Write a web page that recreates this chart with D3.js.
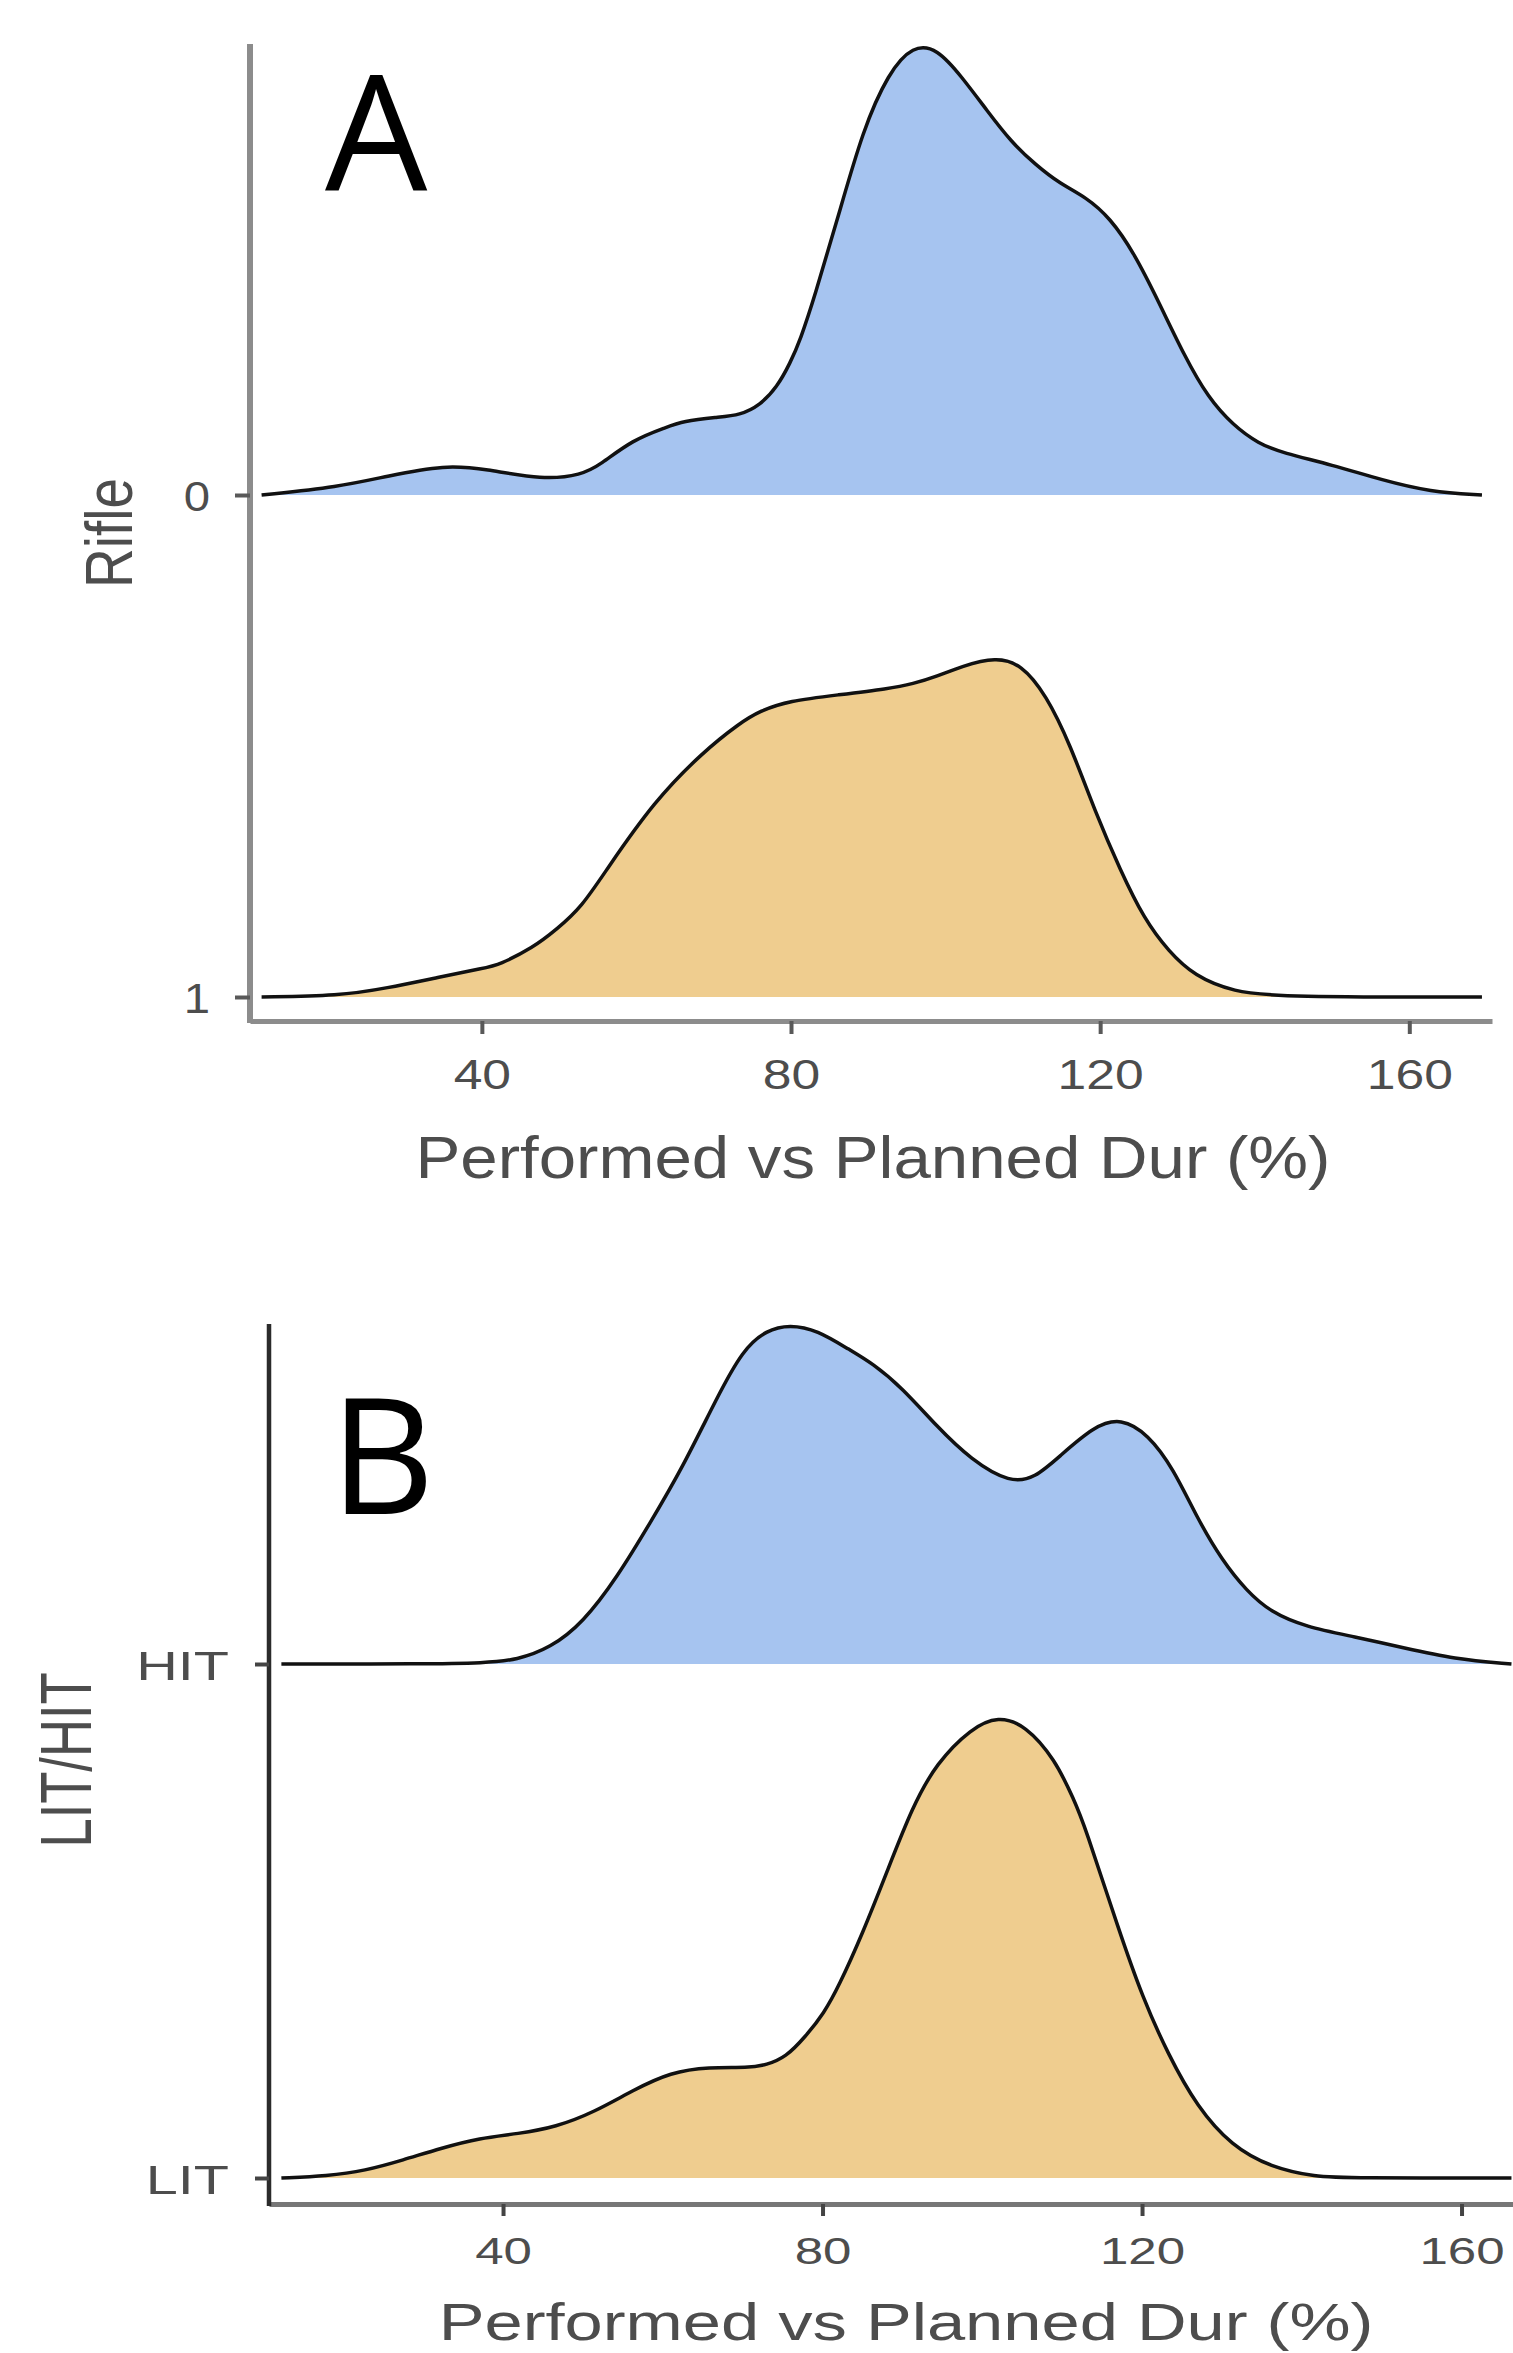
<!DOCTYPE html>
<html>
<head>
<meta charset="utf-8">
<script src="https://cdn.jsdelivr.net/npm/d3@7"></script>
<style>
	body { margin: 0; background: #fff; }
	svg { display: block; }
</style>
</head>
<body>
<svg></svg>
<script>
// panel A : Rifle (0 / 1)
var rifleCats = ['0', '1']
var rifle0X = [11.5, 21.5, 27.8, 35.3, 40.4, 47.9, 52.9, 55.3, 59.5, 63.9, 66.0, 70.4, 73.4, 76.0, 78.2, 79.9, 81.2, 83.0, 86.2, 89.3, 92.6, 95.8, 98.9, 102.1, 105.4, 108.5, 111.7, 114.8, 118.1, 121.3, 124.4, 127.6, 130.9, 134.0, 137.2, 140.5, 143.6, 150.0, 156.4, 162.7, 169.4]
var rifle0D = [0, 0.016, 0.038, 0.060, 0.052, 0.030, 0.040, 0.060, 0.110, 0.135, 0.147, 0.155, 0.159, 0.179, 0.215, 0.263, 0.309, 0.392, 0.560, 0.727, 0.841, 0.896, 0.890, 0.833, 0.765, 0.703, 0.657, 0.620, 0.594, 0.552, 0.482, 0.384, 0.277, 0.193, 0.139, 0.102, 0.084, 0.060, 0.030, 0.006, 0]
var rifle1X = [11.5, 21.5, 27.8, 34.0, 40.4, 42.2, 46.6, 49.7, 52.9, 56.1, 62.3, 68.6, 73.4, 76.0, 79.7, 86.2, 92.6, 95.8, 98.9, 102.1, 106.5, 109.8, 113.0, 116.1, 119.4, 122.6, 125.7, 128.9, 132.2, 137.2, 143.6, 169.4]
var rifle1D = [0, 0.002, 0.018, 0.038, 0.058, 0.064, 0.098, 0.135, 0.179, 0.253, 0.390, 0.488, 0.546, 0.570, 0.590, 0.602, 0.614, 0.624, 0.639, 0.659, 0.677, 0.663, 0.602, 0.504, 0.367, 0.253, 0.155, 0.090, 0.042, 0.010, 0, 0]

// panel B : LIT / HIT
var intensityCats = ['HIT', 'LIT']
var hitX = [12.25, 30, 37.75, 41.75, 45.9, 50.0, 54.3, 58.4, 62.5, 66.8, 70.0, 73.0, 75.9, 79.3, 83.4, 86.25, 90, 94.25, 98.6, 103.5, 106.6, 109.6, 114, 117.4, 120.75, 123.9, 126.9, 130, 133.1, 136.1, 140.5, 146.6, 152.9, 159, 166.25]
var hitD = [0, 0, 0.002, 0.008, 0.031, 0.080, 0.169, 0.274, 0.383, 0.519, 0.611, 0.650, 0.660, 0.650, 0.611, 0.585, 0.537, 0.463, 0.397, 0.352, 0.362, 0.403, 0.463, 0.479, 0.447, 0.381, 0.284, 0.202, 0.142, 0.101, 0.072, 0.053, 0.031, 0.010, 0]
var litX = [12.25, 18.0, 22.7, 27.5, 32.2, 37.1, 41.9, 46.6, 51.4, 56.3, 61.0, 65.8, 70.7, 73.0, 75.4, 77.8, 80.2, 82, 85, 88.1, 91.25, 94.25, 98.6, 102, 105.4, 109.1, 111.5, 112.75, 117.1, 120.1, 123.25, 126.9, 131.25, 136.1, 141.75, 146, 166.25]
var litD = [0, 0.004, 0.014, 0.035, 0.058, 0.078, 0.086, 0.099, 0.128, 0.171, 0.206, 0.216, 0.214, 0.220, 0.235, 0.274, 0.321, 0.372, 0.475, 0.597, 0.722, 0.807, 0.875, 0.899, 0.881, 0.815, 0.735, 0.689, 0.482, 0.350, 0.241, 0.138, 0.062, 0.021, 0.002, 0, 0]

var xTicks = [40, 80, 120, 160]
var xTitle = 'Performed vs Planned Dur (%)'

var blue = '#a6c4f0'
var orange = '#efcd8f'
var axisFont = '"Liberation Sans", Arial, sans-serif'

var width = 1513, height = 2353
var svg = d3.select('svg').attr('width', width).attr('height', height)

// stretch a text horizontally like the (resized) original picture
function stretch(sel, sx) {
	sel.each(function() {
		var len = this.getComputedTextLength()
		d3.select(this).attr('textLength', len * sx).attr('lengthAdjust', 'spacingAndGlyphs')
	})
}

function zip(xs, ds) {
	return xs.map(function(x, i) {return {x: x, d: ds[i]}})
}

// b-spline keeps the density smooth and never dips under the baseline
var curve = d3.curveBasis

function drawPanel(p) {
	var g = svg.append('g')
	var x = d3.scaleLinear().domain(p.xDomain).range(p.xRange)
	var y = d3.scalePoint().domain(p.cats).range(p.yRange)
	var h = d3.scaleLinear().domain([0, 1]).range([0, p.yRange[1] - p.yRange[0]])

	// ridges
	p.series.forEach(function(s) {
		var base = y(s.cat)
		var pts = zip(s.x, s.d)
		var area = d3.area().curve(curve)
			.x(function(d) {return x(d.x)})
			.y0(base)
			.y1(function(d) {return base - h(d.d)})
		var line = d3.line().curve(curve)
			.x(function(d) {return x(d.x)})
			.y(function(d) {return base - h(d.d)})
		g.append('path').datum(pts).attr('d', area).attr('fill', s.color)
		g.append('path').datum(pts).attr('d', line)
			.attr('fill', 'none').attr('stroke', '#111').attr('stroke-width', 3.5)
			.attr('stroke-linejoin', 'round')
	})

	// x axis
	var xAxis = g.append('g')
		.attr('transform', 'translate(0,' + p.xAxisY + ')')
		.call(d3.axisBottom(x).tickValues(xTicks).tickSizeOuter(0).tickSizeInner(p.tickLen).tickPadding(0))
	xAxis.select('.domain').attr('stroke', p.xLine).attr('stroke-width', 5)
	xAxis.selectAll('.tick line').attr('stroke', p.tickColor).attr('stroke-width', 4)
	xAxis.selectAll('.tick text').remove()
	xAxis.selectAll('.tick').append('text')
		.attr('y', p.xLabelY - p.xAxisY)
		.attr('text-anchor', 'middle')
		.attr('font-family', axisFont)
		.attr('font-size', p.xTickSize)
		.attr('fill', '#4d4d4d')
		.text(function(d) {return d})
		.call(stretch, p.xTickStretch)

	// y axis: line drawn by hand, ticks from the point scale
	g.append('line')
		.attr('x1', p.xRange[0]).attr('x2', p.xRange[0])
		.attr('y1', p.yTop).attr('y2', p.xAxisY + 2)
		.attr('stroke', p.yLine).attr('stroke-width', p.yLineW)
	var yAxis = g.append('g')
		.attr('transform', 'translate(' + p.xRange[0] + ',0)')
		.call(d3.axisLeft(y).tickSizeInner(p.tickLen + 2).tickSizeOuter(0).tickPadding(0))
	yAxis.select('.domain').remove()
	yAxis.selectAll('.tick line').attr('stroke', p.tickColor).attr('stroke-width', 4)
	yAxis.selectAll('.tick text').remove()
	yAxis.selectAll('.tick').append('text')
		.attr('x', p.yLabelX - p.xRange[0])
		.attr('y', p.yLabelDy)
		.attr('text-anchor', 'end')
		.attr('font-family', axisFont)
		.attr('font-size', p.yTickSize)
		.attr('fill', '#4d4d4d')
		.text(function(d) {return d})
		.call(stretch, p.yTickStretch)

	// titles
	g.append('text')
		.attr('x', (p.xRange[0] + p.xRange[1]) / 2 + p.titleDx)
		.attr('y', p.titleY)
		.attr('text-anchor', 'middle')
		.attr('font-family', axisFont)
		.attr('font-size', p.titleSize)
		.attr('fill', '#4d4d4d')
		.text(xTitle)
		.call(stretch, p.titleStretch)
	g.append('text')
		.attr('transform', 'translate(' + p.yTitleX + ',' + p.yTitleY + ') rotate(-90)')
		.attr('text-anchor', 'middle')
		.attr('font-family', axisFont)
		.attr('font-size', p.yTitleSize)
		.attr('fill', '#4d4d4d')
		.text(p.yTitle)
		.call(stretch, p.yTitleStretch)

	// panel letter
	g.append('text')
		.attr('x', p.letterX).attr('y', p.letterY)
		.attr('font-family', '"Open Sans", "Noto Sans", sans-serif')
		.attr('font-size', 162)
		.attr('fill', '#000')
		.text(p.letter)
}

drawPanel({
	letter: 'A', letterX: 325, letterY: 191,
	cats: rifleCats, yTitle: 'Rifle',
	series: [
		{cat: '0', x: rifle0X, d: rifle0D, color: blue},
		{cat: '1', x: rifle1X, d: rifle1D, color: orange}
	],
	xDomain: [10, 170.7], xRange: [250, 1492],
	yRange: [495, 997], yTop: 44, xAxisY: 1021,
	xLine: '#8c8c8c', yLine: '#8c8c8c', yLineW: 6, tickColor: '#595959', tickLen: 13,
	xLabelY: 1089, xTickSize: 43, xTickStretch: 1.2,
	yLabelX: 210, yLabelDy: 15, yTickSize: 43, yTickStretch: 1.1,
	titleY: 1178, titleDx: 2, titleSize: 60, titleStretch: 1.12,
	yTitleX: 132, yTitleY: 533, yTitleSize: 67, yTitleStretch: 0.82
})

drawPanel({
	letter: 'B', letterX: 330, letterY: 1514,
	cats: intensityCats, yTitle: 'LIT/HIT',
	series: [
		{cat: 'HIT', x: hitX, d: hitD, color: blue},
		{cat: 'LIT', x: litX, d: litD, color: orange}
	],
	xDomain: [10.7, 170.7], xRange: [269, 1547],
	yRange: [1664, 2178], yTop: 1324, xAxisY: 2204,
	xLine: '#777', yLine: '#2b2b2b', yLineW: 4.5, tickColor: '#444', tickLen: 12,
	xLabelY: 2264, xTickSize: 37, xTickStretch: 1.38,
	yLabelX: 229, yLabelDy: 15, yTickSize: 40, yTickStretch: 1.44,
	titleY: 2340, titleDx: -2, titleSize: 52, titleStretch: 1.32,
	yTitleX: 91, yTitleY: 1760, yTitleSize: 72, yTitleStretch: 0.73
})
</script>
</body>
</html>
